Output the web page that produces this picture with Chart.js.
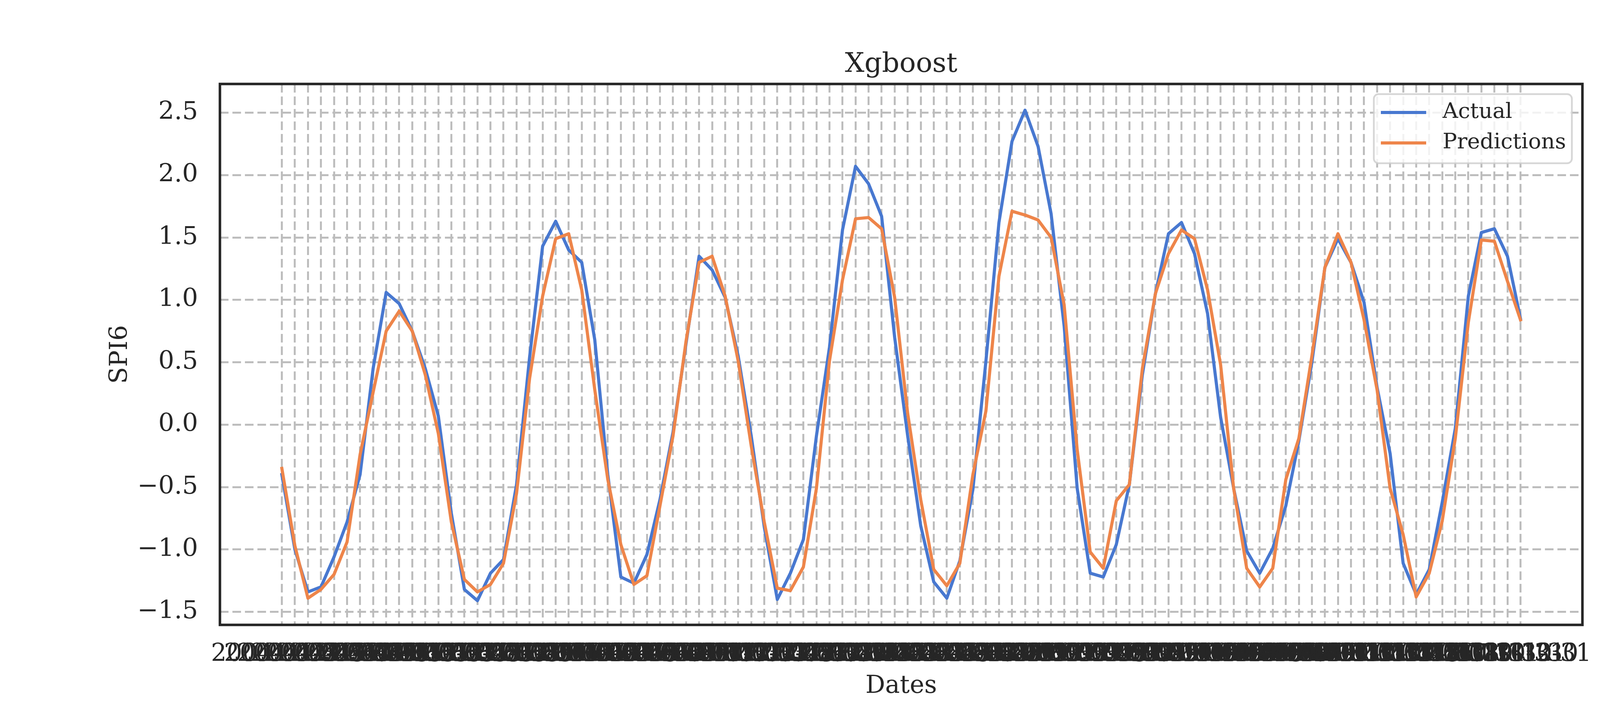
<!DOCTYPE html>
<html>
<head>
<meta charset="utf-8">
<title>Xgboost</title>
<script src="https://cdn.jsdelivr.net/npm/chart.js@4.4.1/dist/chart.umd.min.js"></script>
<style>
  html, body { margin: 0; padding: 0; background: #ffffff; }
  canvas { display: block; }
</style>
</head>
<body>
<canvas id="graficoXgboost" width="4500" height="1800"></canvas>
<script>
// datas do eixo x (fim de mes)
const datas = [
  '2004-01-31', '2004-02-29', '2004-03-31', '2004-04-30', '2004-05-31', '2004-06-30',
  '2004-07-31', '2004-08-31', '2004-09-30', '2004-10-31', '2004-11-30', '2004-12-31',
  '2005-01-31', '2005-02-28', '2005-03-31', '2005-04-30', '2005-05-31', '2005-06-30',
  '2005-07-31', '2005-08-31', '2005-09-30', '2005-10-31', '2005-11-30', '2005-12-31',
  '2006-01-31', '2006-02-28', '2006-03-31', '2006-04-30', '2006-05-31', '2006-06-30',
  '2006-07-31', '2006-08-31', '2006-09-30', '2006-10-31', '2006-11-30', '2006-12-31',
  '2007-01-31', '2007-02-28', '2007-03-31', '2007-04-30', '2007-05-31', '2007-06-30',
  '2007-07-31', '2007-08-31', '2007-09-30', '2007-10-31', '2007-11-30', '2007-12-31',
  '2008-01-31', '2008-02-29', '2008-03-31', '2008-04-30', '2008-05-31', '2008-06-30',
  '2008-07-31', '2008-08-31', '2008-09-30', '2008-10-31', '2008-11-30', '2008-12-31',
  '2009-01-31', '2009-02-28', '2009-03-31', '2009-04-30', '2009-05-31', '2009-06-30',
  '2009-07-31', '2009-08-31', '2009-09-30', '2009-10-31', '2009-11-30', '2009-12-31',
  '2010-01-31', '2010-02-28', '2010-03-31', '2010-04-30', '2010-05-31', '2010-06-30',
  '2010-07-31', '2010-08-31', '2010-09-30', '2010-10-31', '2010-11-30', '2010-12-31',
  '2011-01-31', '2011-02-28', '2011-03-31', '2011-04-30', '2011-05-31', '2011-06-30',
  '2011-07-31', '2011-08-31', '2011-09-30', '2011-10-31', '2011-11-30', '2011-12-31'
];

const reais = [
  -0.40, -1.00, -1.34, -1.30, -1.06, -0.78, -0.40, 0.45, 1.06, 0.97, 0.75, 0.45,
  0.07, -0.71, -1.32, -1.41, -1.19, -1.08, -0.48, 0.54, 1.43, 1.63, 1.40, 1.30,
  0.68, -0.40, -1.22, -1.27, -1.04, -0.60, -0.06, 0.65, 1.35, 1.24, 1.02, 0.55,
  -0.09, -0.82, -1.40, -1.19, -0.92, -0.09, 0.62, 1.56, 2.07, 1.93, 1.67, 0.70,
  -0.09, -0.81, -1.26, -1.39, -1.09, -0.52, 0.51, 1.62, 2.27, 2.52, 2.23, 1.69,
  0.79, -0.51, -1.19, -1.22, -0.96, -0.48, 0.40, 1.05, 1.53, 1.62, 1.37, 0.89,
  0.06, -0.51, -1.01, -1.19, -0.99, -0.65, -0.13, 0.50, 1.26, 1.49, 1.30, 0.98,
  0.30, -0.23, -1.11, -1.36, -1.16, -0.62, -0.03, 1.03, 1.54, 1.57, 1.35, 0.85
];

const previsoes = [
  -0.35, -0.97, -1.39, -1.32, -1.20, -0.94, -0.24, 0.26, 0.75, 0.91, 0.75, 0.40,
  -0.07, -0.78, -1.24, -1.34, -1.28, -1.11, -0.55, 0.37, 1.03, 1.49, 1.53, 1.08,
  0.28, -0.44, -0.96, -1.28, -1.21, -0.65, -0.09, 0.67, 1.30, 1.35, 1.03, 0.51,
  -0.17, -0.78, -1.31, -1.33, -1.14, -0.51, 0.51, 1.16, 1.65, 1.66, 1.57, 1.02,
  0.09, -0.60, -1.16, -1.29, -1.11, -0.40, 0.11, 1.19, 1.71, 1.68, 1.64, 1.50,
  0.96, -0.20, -1.02, -1.15, -0.61, -0.48, 0.45, 1.05, 1.37, 1.56, 1.49, 1.08,
  0.48, -0.51, -1.15, -1.30, -1.15, -0.44, -0.11, 0.55, 1.26, 1.53, 1.30, 0.84,
  0.28, -0.51, -0.88, -1.38, -1.19, -0.77, -0.11, 0.82, 1.48, 1.47, 1.15, 0.84
];

const ticksY = [-1.5, -1.0, -0.5, 0.0, 0.5, 1.0, 1.5, 2.0, 2.5];

const FONTE = "'DejaVu Serif', serif";
const COR_TEXTO = '#262626';
const COR_GRADE = '#bdbdbd';

function caixaArredondada(ctx, x, y, w, h, r) {
  ctx.beginPath();
  ctx.moveTo(x + r, y);
  ctx.arcTo(x + w, y, x + w, y + h, r);
  ctx.arcTo(x + w, y + h, x, y + h, r);
  ctx.arcTo(x, y + h, x, y, r);
  ctx.arcTo(x, y, x + w, y, r);
  ctx.closePath();
}

// moldura do grafico e legenda no canto superior direito
const molduraELegenda = {
  id: 'molduraELegenda',
  afterDraw(chart) {
    const { ctx, chartArea: area } = chart;

    ctx.save();
    ctx.strokeStyle = COR_TEXTO;
    ctx.lineWidth = 6.5;
    ctx.strokeRect(area.left, area.top, area.right - area.left, area.bottom - area.top);

    const largura = 507;
    const altura = 177;
    const x = area.right - 27 - largura;
    const y = area.top + 26;

    caixaArredondada(ctx, x, y, largura, altura, 12);
    ctx.fillStyle = 'rgba(255,255,255,0.8)';
    ctx.fill();
    ctx.strokeStyle = 'rgba(204,204,204,0.8)';
    ctx.lineWidth = 4.5;
    ctx.stroke();

    chart.data.datasets.forEach((dataset, i) => {
      const yLinha = y + 47 + i * 78;

      ctx.strokeStyle = dataset.borderColor;
      ctx.lineWidth = 8;
      ctx.lineCap = 'butt';
      ctx.beginPath();
      ctx.moveTo(x + 18, yLinha);
      ctx.lineTo(x + 134, yLinha);
      ctx.stroke();

      ctx.fillStyle = COR_TEXTO;
      ctx.font = `55px ${FONTE}`;
      ctx.textAlign = 'left';
      ctx.textBaseline = 'middle';
      ctx.fillText(dataset.label, x + 176, yLinha);
    });

    ctx.restore();
  }
};

const ctx = document.getElementById('graficoXgboost');

new Chart(ctx, {
  type: 'line',

  data: {
    datasets: [
      {
        label: 'Actual',
        data: reais.map((v, i) => ({ x: i, y: v })),
        borderColor: '#4878d0',
        borderWidth: 8,
        borderJoinStyle: 'round',
        borderCapStyle: 'square',
        pointRadius: 0,
        fill: false,
        tension: 0,
        order: 2
      },
      {
        label: 'Predictions',
        data: previsoes.map((v, i) => ({ x: i, y: v })),
        borderColor: '#ee854a',
        borderWidth: 8,
        borderJoinStyle: 'round',
        borderCapStyle: 'square',
        pointRadius: 0,
        fill: false,
        tension: 0,
        order: 1
      }
    ]
  },

  options: {
    responsive: false,
    devicePixelRatio: 1,
    animation: false,

    layout: {
      autoPadding: false,
      padding: { left: 0, right: 449, top: 0, bottom: 0 }
    },

    plugins: {
      legend: { display: false },
      tooltip: { enabled: false },

      title: {
        display: true,
        text: 'Xgboost',
        fullSize: false,
        color: COR_TEXTO,
        font: { family: FONTE, size: 70, weight: 'normal', lineHeight: 1.2 },
        padding: { top: 123.5, bottom: 7.5 }
      }
    },

    scales: {
      x: {
        type: 'linear',
        bounds: 'data',
        min: -4.75,
        max: 99.75,
        afterBuildTicks: (scale) => {
          scale.ticks = datas.map((_, i) => ({ value: i }));
        },
        afterFit: (scale) => {
          scale.height = 200;
        },
        grid: {
          color: COR_GRADE,
          lineWidth: 5,
          drawTicks: false
        },
        border: {
          display: false,
          dash: [22, 10]
        },
        ticks: {
          autoSkip: false,
          maxRotation: 0,
          minRotation: 0,
          padding: 39,
          color: COR_TEXTO,
          font: { family: FONTE, size: 63 },
          callback: (valor) => datas[valor]
        },
        title: {
          display: true,
          text: 'Dates',
          color: COR_TEXTO,
          font: { family: FONTE, size: 63, weight: 'normal', lineHeight: 1.2 },
          padding: { top: 0, bottom: 5 }
        }
      },

      y: {
        type: 'linear',
        bounds: 'data',
        min: -1.604,
        max: 2.73,
        afterBuildTicks: (scale) => {
          scale.ticks = ticksY.map(v => ({ value: v }));
        },
        afterFit: (scale) => {
          scale.width = 563;
        },
        grid: {
          color: COR_GRADE,
          lineWidth: 5,
          drawTicks: false
        },
        border: {
          display: false,
          dash: [22, 10]
        },
        ticks: {
          padding: 56,
          color: COR_TEXTO,
          font: { family: FONTE, size: 64 },
          callback: (valor) => valor.toFixed(1).replace('-', '\u2212')
        },
        title: {
          display: true,
          text: 'SPI6',
          color: COR_TEXTO,
          font: { family: FONTE, size: 63, weight: 'normal', lineHeight: 1.2 },
          padding: { top: 271, bottom: 0 }
        }
      }
    }
  },

  plugins: [molduraELegenda]
});
</script>
</body>
</html>
